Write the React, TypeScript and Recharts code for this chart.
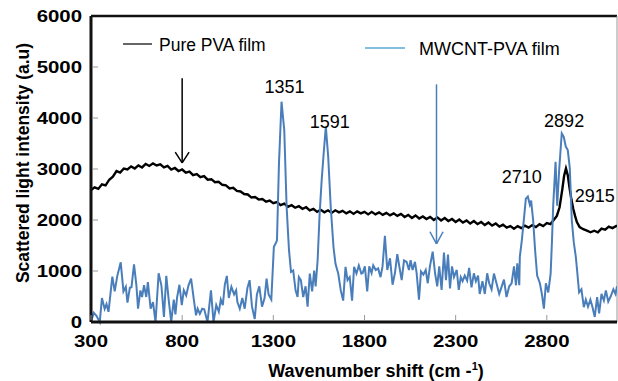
import React from 'react';
import { LineChart, Line, XAxis, YAxis, ReferenceLine, ReferenceDot } from 'recharts';

// values
const xTicks = [300, 800, 1300, 1800, 2300, 2800];
const yTicks = [0, 1000, 2000, 3000, 4000, 5000, 6000];

// [wavenumber shift, intensity]
const pvaSpectrum = [
  [300, 2590], [320, 2640], [340, 2610], [360, 2700], [380, 2680], [400, 2790], [420, 2850], [440, 2960],
  [460, 2930], [480, 3010], [500, 2990], [520, 3050], [540, 3010], [560, 3070], [580, 3030], [600, 3100],
  [620, 3060], [640, 3110], [660, 3070], [680, 3090], [700, 3030], [720, 3060], [740, 2990], [760, 3020],
  [780, 2960], [800, 2990], [820, 2930], [840, 2950], [860, 2880], [880, 2900], [900, 2840], [920, 2860],
  [940, 2790], [960, 2800], [980, 2740], [1000, 2750], [1020, 2690], [1040, 2680], [1060, 2620], [1080, 2630],
  [1100, 2570], [1120, 2560], [1140, 2510], [1160, 2500], [1180, 2440], [1200, 2450], [1220, 2400], [1240, 2410],
  [1260, 2360], [1280, 2380], [1300, 2330], [1320, 2350], [1340, 2290], [1360, 2320], [1380, 2260], [1400, 2290],
  [1420, 2240], [1440, 2270], [1460, 2220], [1480, 2250], [1500, 2190], [1520, 2220], [1540, 2160], [1560, 2200],
  [1580, 2150], [1600, 2190], [1620, 2140], [1640, 2190], [1660, 2150], [1680, 2180], [1700, 2130], [1720, 2170],
  [1740, 2120], [1760, 2170], [1780, 2130], [1800, 2160], [1820, 2110], [1840, 2160], [1860, 2110], [1880, 2150],
  [1900, 2100], [1920, 2140], [1940, 2090], [1960, 2130], [1980, 2080], [2000, 2120], [2020, 2060], [2040, 2100],
  [2060, 2040], [2080, 2090], [2100, 2030], [2120, 2070], [2140, 2020], [2160, 2060], [2180, 2000], [2200, 2050],
  [2220, 1990], [2240, 2040], [2260, 1980], [2280, 2020], [2300, 1960], [2320, 2010], [2340, 1950], [2360, 1990],
  [2380, 1930], [2400, 1980], [2420, 1920], [2440, 1960], [2460, 1900], [2480, 1950], [2500, 1890], [2520, 1930],
  [2540, 1870], [2560, 1910], [2580, 1850], [2600, 1880], [2620, 1830], [2640, 1880], [2660, 1840], [2680, 1890],
  [2700, 1850], [2720, 1900], [2740, 1860], [2760, 1920], [2780, 1880], [2800, 1940], [2820, 1920], [2840, 2010],
  [2855, 2080], [2870, 2250], [2885, 2600], [2895, 2870], [2905, 3010], [2915, 2880], [2925, 2620], [2935, 2400],
  [2945, 2220], [2955, 2080], [2965, 1960], [2980, 1860], [3000, 1820], [3020, 1790], [3040, 1760], [3060, 1790],
  [3080, 1760], [3100, 1830], [3120, 1810], [3140, 1870], [3160, 1840], [3185, 1890],
];

const mwcntSpectrum = [
  [300, 0], [315, 180], [330, 120], [348, 0], [360, 470], [375, 255], [385, 350], [396, 200], [417, 890],
  [430, 600], [444, 900], [463, 1170], [478, 600], [491, 690], [500, 380], [513, 670], [522, 680], [536, 1130],
  [549, 720], [558, 260], [571, 620], [580, 490], [591, 720], [603, 490], [612, 780], [627, 260], [640, 390],
  [654, 0], [671, 955], [686, 720], [700, 100], [713, 905], [726, 440], [740, 0], [754, 440], [763, 150],
  [772, 480], [785, 730], [798, 330], [809, 620], [822, 520], [835, 720], [849, 850], [864, 440], [876, 130],
  [885, 260], [897, 160], [910, 260], [921, 250], [939, 0], [958, 620], [972, 0], [987, 330], [1001, 200],
  [1012, 440], [1023, 330], [1034, 730], [1045, 905], [1056, 470], [1070, 690], [1085, 540], [1096, 620],
  [1103, 390], [1116, 260], [1130, 470], [1143, 260], [1158, 670], [1170, 820], [1183, 300], [1198, 60],
  [1210, 540], [1223, 700], [1238, 300], [1252, 470], [1263, 850], [1274, 540], [1289, 440], [1303, 1475],
  [1314, 1550], [1320, 1600], [1331, 3110], [1345, 4320], [1360, 3760], [1373, 2250], [1386, 1410], [1397, 980],
  [1409, 1010], [1422, 620], [1433, 490], [1440, 880], [1451, 820], [1464, 490], [1477, 700], [1488, 300],
  [1500, 950], [1513, 600], [1524, 1010], [1532, 700], [1543, 1210], [1554, 2120], [1565, 2770], [1576, 3300],
  [1588, 3830], [1601, 3240], [1615, 2250], [1630, 1470], [1641, 1140], [1656, 950], [1670, 620], [1683, 420],
  [1696, 1080], [1707, 820], [1719, 880], [1732, 420], [1743, 1080], [1756, 950], [1769, 1110], [1783, 950],
  [1790, 960], [1802, 1090], [1815, 600], [1826, 1090], [1839, 960], [1848, 1110], [1862, 1020], [1875, 1050],
  [1888, 880], [1899, 1090], [1912, 1690], [1925, 1020], [1940, 1250], [1954, 730], [1967, 960], [1980, 1330],
  [1991, 1090], [2004, 820], [2017, 1210], [2031, 1180], [2044, 1020], [2053, 1210], [2064, 1020], [2077, 1180],
  [2086, 960], [2099, 440], [2110, 990], [2123, 930], [2136, 1020], [2147, 760], [2159, 1090], [2174, 1380],
  [2187, 960], [2199, 700], [2210, 1090], [2223, 630], [2236, 1360], [2247, 820], [2258, 1320], [2269, 660],
  [2280, 1090], [2291, 880], [2306, 1020], [2317, 630], [2328, 880], [2338, 800], [2350, 910], [2363, 810],
  [2374, 1060], [2387, 680], [2400, 955], [2411, 800], [2423, 910], [2432, 550], [2447, 800], [2460, 550],
  [2473, 955], [2484, 760], [2497, 640], [2510, 950], [2524, 760], [2539, 550], [2552, 690], [2565, 830],
  [2579, 490], [2594, 700], [2607, 760], [2620, 1090], [2631, 720], [2638, 1150], [2649, 720], [2652, 1280],
  [2663, 1600], [2674, 2000], [2685, 2420], [2696, 2460], [2707, 2300], [2714, 2380], [2725, 2000], [2736, 1400],
  [2747, 910], [2762, 760], [2773, 550], [2784, 260], [2795, 760], [2808, 580], [2821, 950], [2828, 1560],
  [2835, 2280], [2848, 3140], [2857, 2280], [2868, 2990], [2882, 3700], [2893, 3630], [2904, 3440], [2915, 3370],
  [2926, 3020], [2937, 2000], [2948, 1560], [2959, 1280], [2966, 1020], [2977, 580], [2990, 640], [3003, 290],
  [3014, 440], [3026, 300], [3039, 440], [3050, 300], [3063, 100], [3076, 490], [3087, 170], [3100, 550],
  [3113, 420], [3124, 620], [3137, 400], [3150, 500], [3165, 640], [3177, 550], [3185, 700],
];

// peak annotations (text baseline in data units)
const peakLabels = [
  { text: '1351', x: 1361, y: 4494, anchor: 'middle' },
  { text: '1591', x: 1609, y: 3797, anchor: 'middle' },
  { text: '2892', x: 2895, y: 3816, anchor: 'middle' },
  { text: '2710', x: 2663, y: 2730, anchor: 'middle' },
  { text: '2915', x: 2953, y: 2358, anchor: 'start' },
];

// vertical arrows: shaft top, tip, where the head opens
const arrows = [
  { x: 800, top: 4780, tip: 3120, head: 3330, half: 38, color: '#000' },
  { x: 2195, top: 4660, tip: 1530, head: 1770, half: 36, color: '#4a7ebb' },
];

const X_MIN = 300;
const X_MAX = 3185;
const FONT = '"Liberation Sans", Arial, Helvetica, sans-serif';
const BLUE = '#4a7ebb';

const pvaData = pvaSpectrum.map(([x, y]) => ({ x, y }));
const mwcntData = mwcntSpectrum.map(([x, y]) => ({ x, y }));

const XTick = (props: any) => {
  const { x, y, payload } = props;
  return (
    <g>
      <line x1={x} x2={x} y1={y - 2} y2={y - 7} stroke="#999" strokeWidth={1} />
      <text
        transform={`translate(${x},${y + 25}) scale(1.2,1)`}
        textAnchor="middle"
        fontFamily={FONT}
        fontWeight="bold"
        fontSize={17}
        fill="#000"
      >
        {payload.value}
      </text>
    </g>
  );
};

const YTick = (props: any) => {
  const { x, y, payload } = props;
  return (
    <g>
      {payload.value > 0 && payload.value < 6000 && (
        <line x1={x + 2} x2={x + 7} y1={y} y2={y} stroke="#999" strokeWidth={1} />
      )}
      <text
        transform={`translate(${x - 9},${y}) scale(1.2,1)`}
        textAnchor="end"
        dy="0.36em"
        fontFamily={FONT}
        fontWeight="bold"
        fontSize={17}
        fill="#000"
      >
        {payload.value}
      </text>
    </g>
  );
};

const XTitle = (props: any) => {
  const vb = props.viewBox;
  return (
    <text
      x={vb.x + vb.width / 2 + 22}
      y={vb.y + 55}
      textAnchor="middle"
      fontFamily={FONT}
      fontWeight="bold"
      fontSize={18}
      fill="#000"
    >
      Wavenumber shift (cm -<tspan fontSize={11} dy={-7}>1</tspan>
      <tspan dy={7}>)</tspan>
    </text>
  );
};

const YTitle = (props: any) => {
  const vb = props.viewBox;
  const cy = vb.y + vb.height / 2 - 6;
  return (
    <text
      transform={`translate(28.5,${cy}) rotate(-90)`}
      textAnchor="middle"
      fontFamily={FONT}
      fontWeight="bold"
      fontSize={17.5}
      fill="#000"
    >
      Scattered light intensity (a.u)
    </text>
  );
};

const App = () => {
  return (
    <div style={{ position: 'absolute', left: 0, top: 0, width: 618, height: 381, background: '#fff' }}>
      <LineChart
        width={618}
        height={381}
        margin={{ top: 16, right: 1, bottom: 0, left: 0 }}
      >
        <XAxis
          type="number"
          dataKey="x"
          domain={[X_MIN, X_MAX]}
          ticks={xTicks}
          allowDataOverflow
          height={59}
          tickSize={0}
          tickMargin={0}
          tick={<XTick />}
          axisLine={{ stroke: '#111', strokeWidth: 3 }}
          label={{ content: XTitle }}
        />
        <YAxis
          type="number"
          domain={[0, 6000]}
          ticks={yTicks}
          width={91}
          tickSize={0}
          tickMargin={0}
          tick={<YTick />}
          axisLine={{ stroke: '#111', strokeWidth: 3 }}
          label={{ content: YTitle }}
        />
        <ReferenceLine y={6000} stroke="#111" strokeWidth={2.5} />
        <ReferenceLine x={X_MAX} stroke="#999" strokeWidth={1} />

        <Line
          data={pvaData}
          dataKey="y"
          type="linear"
          stroke="#000"
          strokeWidth={2.4}
          dot={false}
          isAnimationActive={false}
        />
        <Line
          data={mwcntData}
          dataKey="y"
          type="linear"
          stroke={BLUE}
          strokeWidth={2}
          dot={false}
          isAnimationActive={false}
        />

        {arrows.map((a, i) => (
          <ReferenceLine
            key={`shaft-${i}`}
            segment={[{ x: a.x, y: a.top }, { x: a.x, y: a.tip }]}
            stroke={a.color}
            strokeWidth={1.5}
          />
        ))}
        {arrows.map((a, i) => (
          <ReferenceLine
            key={`hl-${i}`}
            segment={[{ x: a.x - a.half, y: a.head }, { x: a.x, y: a.tip }]}
            stroke={a.color}
            strokeWidth={1.5}
          />
        ))}
        {arrows.map((a, i) => (
          <ReferenceLine
            key={`hr-${i}`}
            segment={[{ x: a.x + a.half, y: a.head }, { x: a.x, y: a.tip }]}
            stroke={a.color}
            strokeWidth={1.5}
          />
        ))}

        {peakLabels.map((p) => (
          <ReferenceDot
            key={p.text}
            x={p.x}
            y={p.y}
            r={0}
            shape={(s: any) => (
              <text
                x={s.cx}
                y={s.cy}
                textAnchor={p.anchor}
                fontFamily={FONT}
                fontSize={18}
                fill="#000"
              >
                {p.text}
              </text>
            )}
          />
        ))}
      </LineChart>

      <svg
        width={618}
        height={381}
        style={{ position: 'absolute', left: 0, top: 0, pointerEvents: 'none' }}
      >
        <line x1={123} x2={152} y1={44} y2={44} stroke="#333" strokeWidth={1.5} />
        <text x={159} y={51} fontFamily={FONT} fontSize={17.5} fill="#000">
          Pure PVA film
        </text>
        <line x1={365} x2={405} y1={48} y2={48} stroke="#5aaad2" strokeWidth={1.5} />
        <text x={419} y={54.5} fontFamily={FONT} fontSize={18} fill="#000">
          MWCNT-PVA film
        </text>
      </svg>
    </div>
  );
};

export default App;
